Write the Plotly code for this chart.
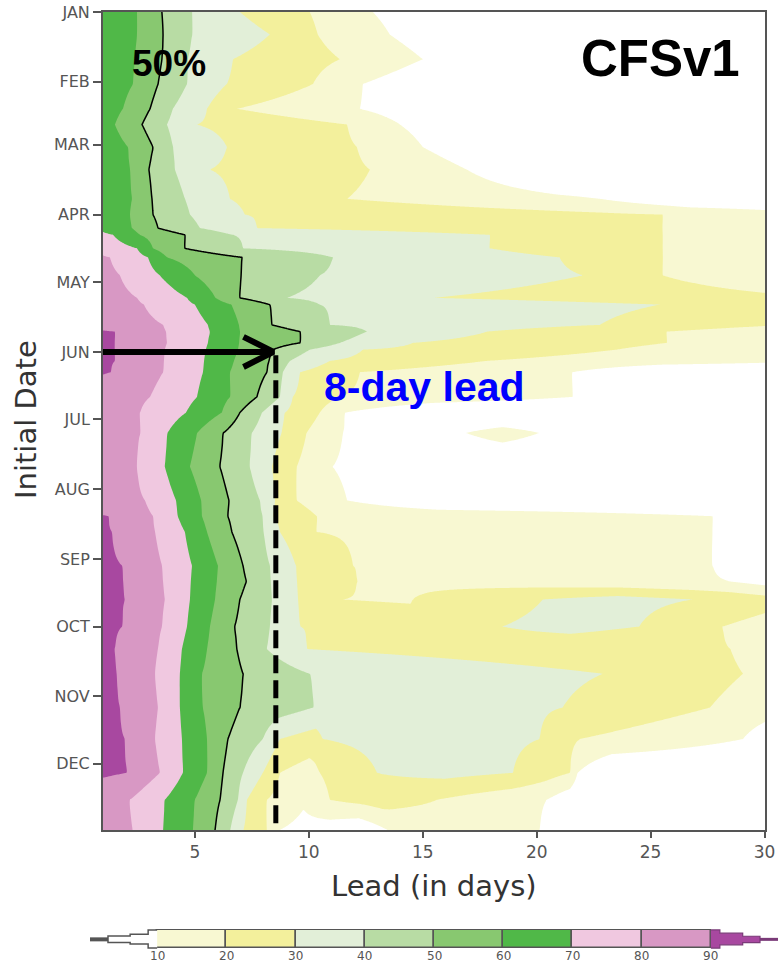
import numpy as np
import plotly.graph_objects as go

# ---------------- data ----------------
# rows of the field: initial date (day of year)
init_days = [1, 11, 22, 33, 44, 51, 61, 71, 84, 91, 97, 100, 106, 110, 118, 128, 131, 140, 143,
             148, 151, 156, 161, 172, 179, 188, 203, 218, 225, 232, 247, 254, 262, 274, 284, 295,
             310, 324, 339, 351, 365]

# lead (days) at which the skill falls below each level, per row (None = level not reached)
lead_90 = [None] * 18 + [1.49, 1.49, 1.49, 1.49, 1.30] + [None] * 5 + \
          [1.2, 1.35, 1.80, 1.85, 1.93, 1.80, 1.49, 1.58, 1.71, 1.93, 2.02, None, None]
lead_80 = [None] * 13 + [1.27, 1.71, 2.46, 2.76, 3.6, 3.73, 3.77, 3.68, 3.64, 3.60, 3.03, 2.59,
                         2.6, 2.46, 2.81, 3.16, 3.25, 3.55, 3.60, 3.68, 3.55, 3.38, 3.25, 3.38,
                         3.25, 3.46, 2.15, 2.28]
lead_70 = [None] * 11 + [1.40, 2.46, 2.94, 3.46, 4.65, 5.0, 5.57, 5.66, 5.57, 5.48, 5.40, 5.35,
                         5.09, 4.60, 3.8, 3.68, 4.17, 4.25, 4.56, 4.87, 4.82, 4.78, 4.65, 4.43,
                         4.34, 4.34, 4.43, 4.47, 3.68, 3.60]
lead_60 = [2.46, 2.46, 2.37, 2.28, 1.84, 1.49, 2.06, 2.15, 2.24, 2.15, 2.24, 2.59, 3.16, 3.77,
           5.0, 5.9, 6.6, 6.93, 6.97, 6.93, 6.89, 6.71, 6.54, 6.54, 6.18, 5.1, 4.78, 5.27, 5.31,
           5.53, 6.01, 5.96, 5.88, 5.66, 5.53, 5.31, 5.35, 5.53, 5.53, 5.0, 4.91]
lead_50 = [3.55, 3.60, 3.55, 3.38, 3.03, 2.68, 3.16, 2.98, 3.11, 3.16, 3.38, 4.56, 4.56, 7.06,
           7.02, 6.97, 8.29, 8.38, 9.61, 9.61, 8.42, 8.25, 8.16, 7.72, 6.97, 6.25, 6.10, 6.49,
           6.45, 6.62, 7.11, 7.25, 6.97, 6.75, 6.84, 7.11, 6.97, 6.45, 6.23, 6.10, 5.88]
lead_40 = [4.87, 4.87, 4.69, 4.65, 4.03, 3.77, 4.03, 4.12, 4.56, 4.78, 5.22, 6.67, 7.11, 11.05,
           10.48, 9.04, 10.48, 10.92, 12.54, 11.36, 10.04, 9.17, 8.86, 8.73, 7.94, 7.5, 7.41,
           7.85, 7.98, 8.02, 8.29, 8.33, 8.38, 8.29, 8.16, 10.04, 10.18, 7.98, 7.11, 6.89, 6.54]
lead_30 = [6.97, 8.29, 6.67, 6.40, 5.53, 5.09, 6.40, 5.66, 6.54, 7.19, 7.72, 17.94, 17.94, 21.0,
           22.02, 15.5, 25.4, 22.77, 17.81, 14.56, 12.37, 10.92, 9.61, 9.30, 8.95, 8.8, 8.38,
           8.51, 8.42, 8.73, 9.43, 9.47, 9.52, 9.61, 9.91, 22.90, 21.14, 8.73, 7.98, 7.28, 7.11]
lead_20 = [10.04, 10.39, 11.36, 10.18, 6.84, 11.68, 12.11, 12.68, 11.68, 25.53, 25.53, 25.53,
           25.53, 25.53, 25.53, 33.0, 33.0, 31.0, 25.71, 25.71, 23.51, 17.81, 12.24, 11.36, 10.48,
           9.9, 9.47, 9.47, 10.35, 10.35, 11.94, 12.11, 11.50, 28.17, 28.5, 29.05, 27.60, 12.0,
           8.73, 8.16, 8.16]
lead_10 = [12.81, 13.55, 15.0, 12.37, 12.24, 14.0, 15.0, 16.93, 22.77, 33.0, 33.0, 33.0, 33.0,
           33.0, 33.0, 36.0, 36.0, 36.0, 33.0, 33.0, 33.0, 33.0, 21.58, 21.58, 11.59, 11.5, 11.05,
           11.68, 27.73, 27.73, 27.73, 28.5, 33.0, 33.0, 33.0, 33.0, 33.0, 14.0, 11.5, 10.0, 8.60]

# secondary maxima at longer leads (Jul island, Oct patch, Nov-Dec tongue)
hill_days = [188, 262, 274, 324, 339, 351, 365]
hill_up10 = [16.9, None, None, 9.5, 9.5, 9.6, 13.55]
hill_up20 = [None, 14.56, 16.0, 10.0, 10.48, 10.92, None]
hill_up30 = [None, 20.27, 18.5, 10.61, 12.99, None, None]
hill_dn30 = [None, 26.85, 24.5, 20.13, 18.95, None, None]
hill_dn20 = [None, 32.0, 27.0, 21.9, 21.45, 15.62, None]
hill_dn10 = [20.1, None, None, 29.05, 21.8, 20.44, 20.13]
hill_peak = [14, 34, 33, 35, 33, 25, 15]

levels = [90, 80, 70, 60, 50, 40, 30, 20, 10]
band_colors = ['#ffffff', '#f8f8d2', '#f3f09c', '#e2efd8', '#b8dca4',
               '#88c870', '#50b848', '#f0c8e0', '#d898c4', '#a848a0']
month_days = [1, 32, 60, 91, 121, 152, 182, 213, 244, 274, 305, 335]
month_names = ['JAN', 'FEB', 'MAR', 'APR', 'MAY', 'JUN', 'JUL', 'AUG', 'SEP', 'OCT', 'NOV', 'DEC']
lead_ticks = [5, 10, 15, 20, 25, 30]
lead_mark = 8.55
mark_day = 152
mark_end_day = 362

# ---------------- build the field ----------------
lead_grid = np.round(np.arange(0.9, 30.2, 0.05), 3)
crossings = [lead_90, lead_80, lead_70, lead_60, lead_50, lead_40, lead_30, lead_20, lead_10]


def base_profile(i):
    pts = [(-5.0, 100.0)]
    for lev, arr in zip(levels, crossings):
        if arr[i] is not None:
            pts.append((arr[i], float(lev)))
    pts.append((pts[-1][0] + 4.0, 0.0))
    pts.append((80.0, 0.0))
    xs, vs = zip(*pts)
    return np.interp(lead_grid, xs, vs)


def hill_profile(j):
    ups = [(a[j], lev) for a, lev in ((hill_up10, 10), (hill_up20, 20), (hill_up30, 30)) if a[j] is not None]
    dns = [(a[j], lev) for a, lev in ((hill_dn30, 30), (hill_dn20, 20), (hill_dn10, 10)) if a[j] is not None]
    top = 0.5 * (ups[-1][0] + dns[0][0])
    pts = [(ups[0][0] - 1.5, 0.0)] + ups + [(top, float(hill_peak[j]))] + dns + [(dns[-1][0] + 1.5, 0.0)]
    xs, vs = zip(*pts)
    return np.interp(lead_grid, xs, vs, left=0.0, right=0.0)


Z = np.array([base_profile(i) for i in range(len(init_days))])
for j, d in enumerate(hill_days):
    i = init_days.index(d)
    Z[i] = np.maximum(Z[i], hill_profile(j))

colorscale = [[k / 9, c] for k, c in enumerate(band_colors)]

fig = go.Figure()
fig.add_trace(go.Contour(
    x=lead_grid, y=init_days, z=Z, autocontour=False,
    contours=dict(start=10, end=90, size=10, coloring='fill', showlines=False),
    colorscale=colorscale, showscale=False, line=dict(width=0), hoverinfo='skip'))
fig.add_trace(go.Contour(
    x=lead_grid, y=init_days, z=Z, autocontour=False,
    contours=dict(start=50, end=50, size=10, coloring='none', showlines=True),
    line=dict(color='black', width=1.5), showscale=False, hoverinfo='skip'))

# arrow and dashed marker of the 8-day lead
tip = lead_mark - 0.1
fig.add_trace(go.Scatter(x=[0.965, tip], y=[mark_day, mark_day], mode='lines',
                         line=dict(color='black', width=6), hoverinfo='skip'))
fig.add_trace(go.Scatter(x=[tip - 1.32, tip, tip - 1.32],
                         y=[mark_day - 6.7, mark_day, mark_day + 6.7], mode='lines',
                         line=dict(color='black', width=6), hoverinfo='skip'))
fig.add_trace(go.Scatter(x=[lead_mark, lead_mark], y=[mark_day + 1.5, mark_end_day], mode='lines',
                         line=dict(color='black', width=5, dash='18px,7px'), hoverinfo='skip'))

# ---------------- colour bar (own axes) ----------------
cb_levels = sorted(levels)
cb_centers = [(a + b) / 2 for a, b in zip(cb_levels[:-1], cb_levels[1:])]
fig.add_trace(go.Bar(x=cb_centers, y=[1] * len(cb_centers), width=10, base=0,
                     marker=dict(color=band_colors[1:9], line=dict(color='#555555', width=1.5)),
                     xaxis='x2', yaxis='y2', hoverinfo='skip'))
lo, hi = cb_levels[0], cb_levels[-1]
left_tail_x = [lo, lo - 1.3, lo - 1.3, lo - 3.9, lo - 3.9, lo - 7.1, lo - 7.1, lo - 3.9, lo - 3.9, lo - 1.3, lo - 1.3, lo]
left_tail_y = [0, 0, 0.22, 0.22, 0.31, 0.31, 0.67, 0.67, 0.76, 0.76, 1, 1]
fig.add_trace(go.Scatter(x=left_tail_x, y=left_tail_y, mode='lines', fill='toself',
                         fillcolor='white', line=dict(color='#555555', width=1.5),
                         xaxis='x2', yaxis='y2', hoverinfo='skip'))
fig.add_trace(go.Scatter(x=[lo - 7.1, lo - 9.7], y=[0.48, 0.48], mode='lines',
                         line=dict(color='#555555', width=4), xaxis='x2', yaxis='y2', hoverinfo='skip'))
right_tail_x = [hi, hi + 1.3, hi + 1.3, hi + 4.6, hi + 4.6, hi + 7.1, hi + 7.1, hi + 4.6, hi + 4.6, hi + 1.3, hi + 1.3, hi]
right_tail_y = [0, 0, 0.18, 0.18, 0.3, 0.3, 0.65, 0.65, 0.82, 0.82, 1, 1]
fig.add_trace(go.Scatter(x=right_tail_x, y=right_tail_y, mode='lines', fill='toself',
                         fillcolor=band_colors[9], line=dict(color='#7a3a78', width=1.2),
                         xaxis='x2', yaxis='y2', hoverinfo='skip'))
fig.add_trace(go.Scatter(x=[hi + 7.1, hi + 9.7], y=[0.48, 0.48], mode='lines',
                         line=dict(color='#7a3a78', width=3), xaxis='x2', yaxis='y2', hoverinfo='skip'))

W, H = 779, 964
tick_font = dict(family='DejaVu Sans', size=16, color='#555555')
fig.update_layout(
    width=W, height=H, margin=dict(l=0, r=0, t=0, b=0, pad=0, autoexpand=False),
    paper_bgcolor='white', plot_bgcolor='white', showlegend=False,
    xaxis=dict(domain=[103 / W, 765 / W], range=[0.965, 30.02], tickvals=lead_ticks,
               ticks='outside', ticklen=6, tickwidth=1.5, tickcolor='#555555',
               tickfont=dict(family='DejaVu Sans', size=17, color='#555555'),
               showline=True, linewidth=2, linecolor='#555555', mirror=True,
               showgrid=False, zeroline=False, automargin=False),
    yaxis=dict(domain=[1 - 830 / H, 1 - 12 / H], range=[364.4, 1], tickvals=month_days,
               ticktext=month_names, ticks='outside', ticklen=8, tickwidth=1.5,
               tickcolor='#555555', tickfont=tick_font, showline=True, linewidth=2,
               linecolor='#555555', mirror=True, showgrid=False, zeroline=False,
               automargin=False),
    xaxis2=dict(domain=[90 / W, 778 / W], range=[0.3, 99.7], anchor='y2',
                showticklabels=False, ticks='', showline=False, showgrid=False,
                zeroline=False, automargin=False),
    yaxis2=dict(domain=[1 - 949 / H, 1 - 929 / H], range=[-0.05, 1.05], anchor='x2',
                visible=False, fixedrange=True, automargin=False),
    bargap=0,
)

bold = 'Liberation Sans, Arial, sans-serif'
annotations = [
    dict(text='<b>50%</b>', x=169 / W, y=1 - 64 / H, font=dict(family=bold, size=37, color='black')),
    dict(text='<b>CFSv1</b>', x=660 / W, y=1 - 58 / H, font=dict(family=bold, size=51, color='black')),
    dict(text='<b>8-day lead</b>', x=424 / W, y=1 - 387 / H, font=dict(family=bold, size=41, color='#0000ff')),
    dict(text='Lead (in days)', x=434 / W, y=1 - 886 / H,
         font=dict(family='DejaVu Sans', size=29, color='#333333')),
    dict(text='Initial Date', x=26 / W, y=1 - 420 / H, textangle=-90,
         font=dict(family='DejaVu Sans', size=29, color='#333333')),
]
for a in annotations:
    a.update(xref='paper', yref='paper', showarrow=False, xanchor='center', yanchor='middle')
for lev in cb_levels:
    annotations.append(dict(text=str(lev), x=lev, xref='x2', y=1 - 956 / H, yref='paper',
                            showarrow=False, xanchor='center', yanchor='middle',
                            font=dict(family='DejaVu Sans', size=12, color='#555555')))
fig.update_layout(annotations=annotations)

fig.write_html("out.html", config={'displayModeBar': False},
               post_script="document.body.style.margin='0px';document.body.style.overflow='hidden';")
